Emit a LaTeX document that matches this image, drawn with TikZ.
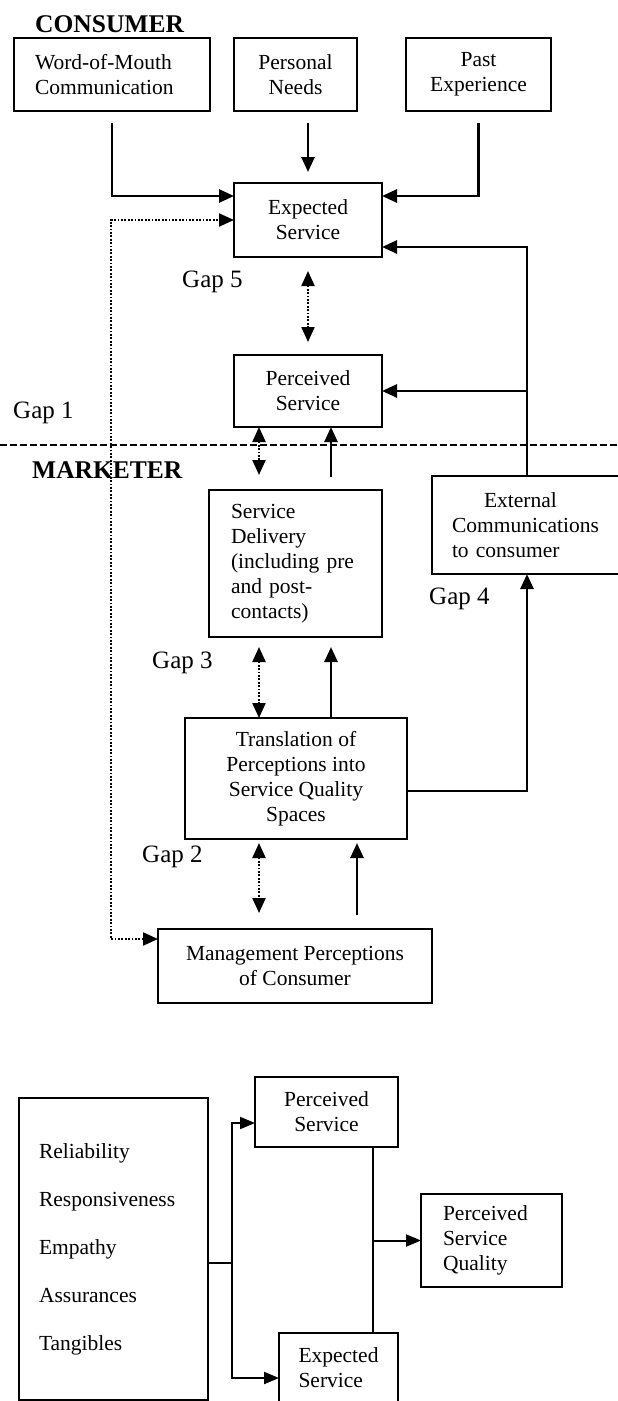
\documentclass[tikz,border=0pt]{standalone}
\usepackage{fontspec}
\setmainfont{Liberation Serif}
\usepackage{tikz}
\usetikzlibrary{arrows.meta,positioning}
\tikzset{
  box/.style   = {rectangle, draw=black, line width=2pt, outer sep=0pt, align=center,
                  font={\fontsize{21.5}{25}\selectfont}, inner xsep=6pt, inner ysep=4pt},
  boxl/.style  = {box, align=left},
  hd/.style    = {font={\fontsize{25.5}{28}\selectfont\bfseries}, inner sep=0pt, anchor=base west},
  gap/.style   = {font={\fontsize{25}{28}\selectfont}, inner sep=0pt, anchor=base west},
  fl/.style    = {-{Triangle[length=15pt,width=13pt]}, line width=2.6pt, black},
  fld/.style   = {{Triangle[length=15pt,width=13pt]}-{Triangle[length=15pt,width=13pt]},
                  line width=2.2pt, black, dash pattern=on 1.8pt off 1.6pt},
  fls/.style   = {-{Triangle[length=15pt,width=12pt]}, line width=2pt, black},
  fln/.style   = {line width=1.8pt, black},
  dvd/.style   = {line width=2.2pt, black, dash pattern=on 7pt off 3pt},
}

\begin{document}
\begin{tikzpicture}[x=1pt, y=1pt]
  \path[use as bounding box, clip] (0,0) rectangle (618,-1401);
  \fill[white] (0,0) rectangle (618,-1401);

  % consumer side
  \node[boxl, text width=154pt, inner xsep=21pt, minimum height=73pt] (wom) at (112,-74.5) {Word-of-Mouth\\ Communication};
  \node[box, right=24pt of wom, minimum width=123pt, minimum height=73pt] (need) {Personal\\ Needs};
  \node[box, right=49pt of need, minimum width=145pt, minimum height=73pt] (past) {Past\\ Experience};
  \node[box, below=72pt of need, xshift=12.5pt, minimum width=148pt, minimum height=74pt] (exp) {Expected\\ Service};
  \node[box, below=98pt of exp, minimum width=148pt, minimum height=72pt] (perc) {Perceived\\ Service};

  % marketer side
  \node[boxl, below=63pt of perc, xshift=-12.5pt, text width=129pt, inner xsep=22pt, minimum height=147pt] (dlv)
       {Service\\ Delivery\\ (including pre\\ and post-\\ contacts)};
  \node[boxl, right=50pt of dlv, yshift=38.5pt, text width=150pt, inner xsep=20pt, minimum height=98pt] (ext)
       {\hspace*{32pt}External\\ Communications\\ to consumer};
  \node[box, below=81pt of dlv, xshift=0.5pt, minimum width=222pt, minimum height=121pt] (transl)
       {Translation of\\ Perceptions into\\ Service Quality\\ Spaces};
  \node[box, below=90pt of transl, xshift=-1pt, minimum width=274pt, minimum height=74pt] (mgmt)
       {Management Perceptions\\ of Consumer};

  % dimensions
  \node[box, below=74pt of mgmt, xshift=31.5pt, minimum width=143pt, minimum height=70pt] (pserv) {Perceived\\ Service};
  \node[boxl, left=47pt of pserv, yshift=-137pt, text width=149pt, inner xsep=20pt, minimum height=302pt] (dim)
       {Reliability\\[23pt] Responsiveness\\[23pt] Empathy\\[23pt] Assurances\\[23pt] Tangibles};
  \node[boxl, below=186pt of pserv, xshift=12pt, text width=80pt, inner xsep=19.5pt, minimum height=70pt] (eserv) {Expected\\ Service};
  \node[boxl, right=23pt of pserv, yshift=-128.5pt, text width=97pt, inner xsep=22pt, minimum height=93pt] (psq)
       {Perceived\\ Service\\ Quality};
  \coordinate[right=24pt of dim.east, yshift=-14pt] (split);

  % headings and gaps
  \node[hd] (cons) at (35,-32) {CONSUMER};
  \node[hd] (mark) at (32,-478) {MARKETER};
  \node[gap] (g5) at (182,-287.5) {Gap 5};
  \node[gap] (g1) at (13,-418) {Gap 1};
  \node[gap] (g4) at (429,-604) {Gap 4};
  \node[gap] (g3) at (152,-668) {Gap 3};
  \node[gap] (g2) at (142,-862) {Gap 2};

  \coordinate (dvl) at (0,-445);
  \coordinate (dvr) at (618,-445);
  \draw[dvd] (dvl) -- (dvr);

  \draw[fl] ([yshift=-12pt]wom.south) |- ([yshift=24pt]exp.west);
  \draw[fl] ([yshift=-12pt]need.south -| exp.north) -- ([yshift=11pt]exp.north);
  \draw[fl] ([yshift=-12pt]past.south) |- ([yshift=24pt]exp.east);
  \draw[fld] ([yshift=27pt]mgmt.west) -- ([xshift=-47pt,yshift=27pt]mgmt.west) |- (exp.west);
  \draw[fld] ([yshift=-14pt]exp.south) -- ([yshift=13pt]perc.north);
  \draw[fl] (ext.north) |- ([yshift=-27pt]exp.east);
  \draw[fl] (ext.north |- perc.east) -- (perc.east);

  \draw[fld] ([xshift=-49pt]perc.south) -- ([xshift=-49pt,yshift=15pt]perc.south |- dlv.north);
  \draw[fl] ([xshift=23pt,yshift=13pt]perc.south |- dlv.north) -- ([xshift=23pt]perc.south);
  \draw[fld] ([xshift=-37pt,yshift=-10pt]transl.north |- dlv.south) -- ([xshift=-37pt]transl.north);
  \draw[fl] ([xshift=35pt]transl.north) -- ([xshift=35pt,yshift=-10pt]transl.north |- dlv.south);
  \draw[fld] ([xshift=-37pt,yshift=-4pt]transl.south) -- ([xshift=-37pt,yshift=16pt]transl.south |- mgmt.north);
  \draw[fl] ([xshift=61pt,yshift=14pt]transl.south |- mgmt.north) -- ([xshift=61pt,yshift=-4pt]transl.south);
  \draw[fl] ([yshift=-12.5pt]transl.east) -| (ext.south);

  \draw[fln] ([yshift=-14pt]dim.east) -- (split);
  \draw[fls] (split) |- ([yshift=-11pt]pserv.west);
  \draw[fls] (split) |- ([yshift=-10pt]eserv.west);
  \draw[fln] ([xshift=46.5pt]pserv.south) -- ([xshift=46.5pt]pserv.south |- eserv.north);
  \draw[fls] ([xshift=46.5pt]pserv.south |- psq.west) -- (psq.west);

\end{tikzpicture}
\end{document}
